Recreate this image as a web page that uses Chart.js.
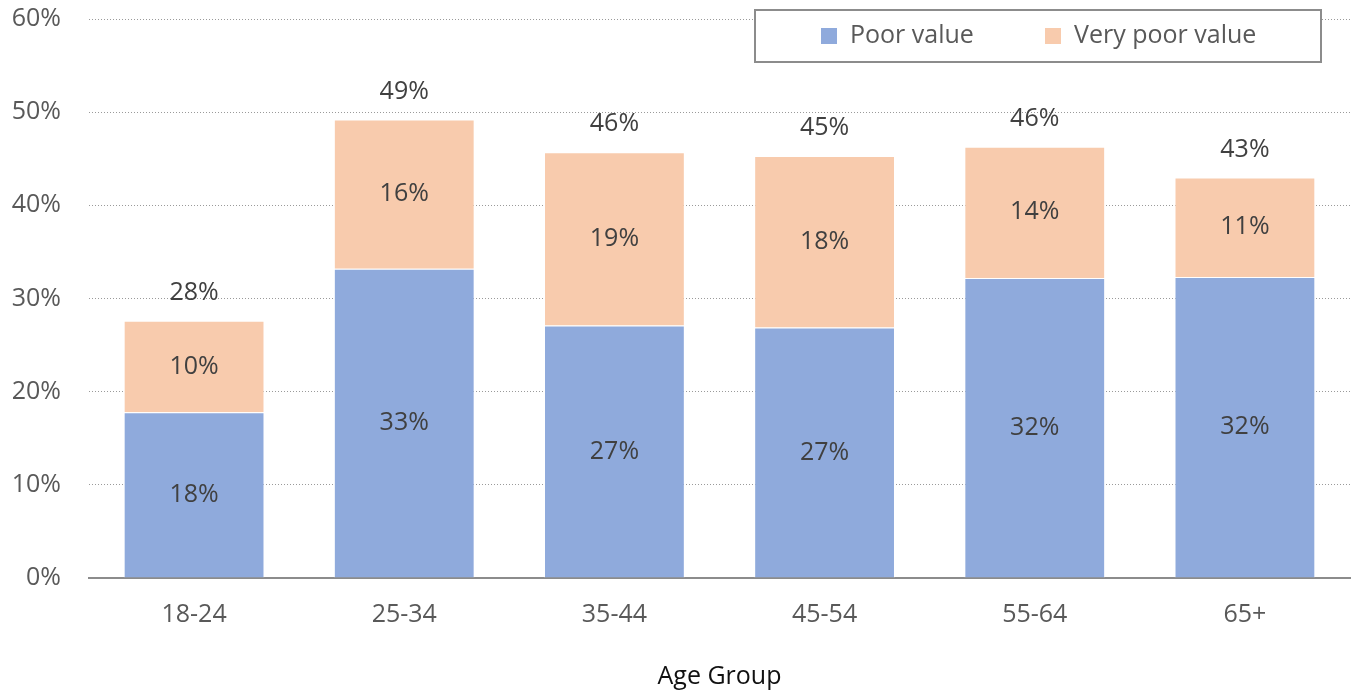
<!DOCTYPE html>
<html>
<head>
<meta charset="utf-8">
<script src="https://cdn.jsdelivr.net/npm/chart.js@4"></script>
<style>
  html, body { margin: 0; padding: 0; background: #fff; }
  #wrap { width: 1353px; height: 692px; }
</style>
</head>
<body>
<div id="wrap"><canvas id="ageChart"></canvas></div>
<script>
// age groups and shares (percent of respondents)
const ageGroups = ["18-24", "25-34", "35-44", "45-54", "55-64", "65+"];
const poorValue = [17.8, 33.2, 27.1, 26.9, 32.2, 32.3];
const veryPoorValue = [9.8, 16.0, 18.6, 18.4, 14.1, 10.7];
const seriesNames = ["Poor value", "Very poor value"];
const yTicks = [0, 10, 20, 30, 40, 50, 60];

const FONT = "'Open Sans', sans-serif";

// segment values inside each bar, stack total above
const barLabels = {
  id: "barLabels",
  afterDatasetsDraw(chart){
    const ctx = chart.ctx;
    ctx.save();
    ctx.font = "25px " + FONT;
    ctx.fillStyle = "#404040";
    ctx.textAlign = "center";
    ctx.textBaseline = "middle";

    chart.data.datasets.forEach((ds, i) => {
      chart.getDatasetMeta(i).data.forEach((bar, j) => {
        ctx.fillText(Math.round(ds.data[j]) + "%", bar.x, (bar.y + bar.base) / 2);
      });
    });

    const last = chart.getDatasetMeta(chart.data.datasets.length - 1).data;
    last.forEach((bar, j) => {
      let total = 0;
      chart.data.datasets.forEach(ds => { total += ds.data[j]; });
      ctx.fillText(Math.round(total) + "%", bar.x, bar.y - 28);
    });
    ctx.restore();
  }
};

// boxed legend sitting over the top of the plot
const boxLegend = {
  id: "boxLegend",
  afterDraw(chart){
    const ctx = chart.ctx;
    const box = { x: 755, y: 10, w: 566, h: 52 };
    ctx.save();
    ctx.fillStyle = "#fff";
    ctx.fillRect(box.x, box.y, box.w, box.h);
    ctx.strokeStyle = "#8c8c8c";
    ctx.lineWidth = 2;
    ctx.strokeRect(box.x, box.y, box.w, box.h);

    ctx.font = "25px " + FONT;
    ctx.textBaseline = "middle";
    ctx.textAlign = "left";
    const cy = box.y + box.h / 2;
    const starts = [821, 1045];
    chart.data.datasets.forEach((ds, i) => {
      ctx.fillStyle = ds.backgroundColor;
      ctx.fillRect(starts[i], cy - 8, 16, 16);
      ctx.fillStyle = "#595959";
      ctx.fillText(ds.label, starts[i] + 29, cy);
    });
    ctx.restore();
  }
};

new Chart(document.getElementById("ageChart"), {
  type: "bar",
  data: {
    labels: ageGroups,
    datasets: [
      {
        label: seriesNames[0],
        data: poorValue,
        backgroundColor: "#8FAADC",
        borderColor: "rgba(255,255,255,0.6)",
        borderWidth: 1
      },
      {
        label: seriesNames[1],
        data: veryPoorValue,
        backgroundColor: "#F8CBAD",
        borderColor: "rgba(255,255,255,0.6)",
        borderWidth: 1
      }
    ]
  },
  options: {
    responsive: true,
    maintainAspectRatio: false,
    animation: false,
    layout: { padding: { top: 19, right: 3, bottom: 0, left: 0 } },
    datasets: {
      bar: { categoryPercentage: 1, barPercentage: 0.67 }
    },
    plugins: {
      legend: { display: false },
      tooltip: { enabled: false }
    },
    scales: {
      x: {
        stacked: true,
        afterFit(scale){ scale.height = 114; },
        grid: { display: true, color: "rgba(0,0,0,0)", drawTicks: false },
        border: { display: true, color: "#8c8c8c", width: 2 },
        ticks: {
          color: "#595959",
          font: { family: FONT, size: 25 },
          padding: 22
        },
        title: {
          display: true,
          text: "Age Group",
          color: "#111",
          font: { family: FONT, size: 25 },
          padding: { top: 34, bottom: 0 }
        }
      },
      y: {
        stacked: true,
        min: yTicks[0],
        max: yTicks[yTicks.length - 1],
        afterFit(scale){
          scale.width = 89;
          scale.paddingTop = 0;
          scale.paddingBottom = 0;
        },
        afterBuildTicks(scale){
          scale.ticks = yTicks.map(v => ({ value: v }));
        },
        grid: {
          drawTicks: false,
          color: ctx => ctx.tick && ctx.tick.value === 0 ? "rgba(0,0,0,0)" : "#9a9a9a",
          lineWidth: 1
        },
        border: { display: false, dash: [1, 2] },
        ticks: {
          color: "#595959",
          font: { family: FONT, size: 25 },
          padding: 28,
          callback: v => v + "%"
        }
      }
    }
  },
  plugins: [barLabels, boxLegend]
});
</script>
</body>
</html>
